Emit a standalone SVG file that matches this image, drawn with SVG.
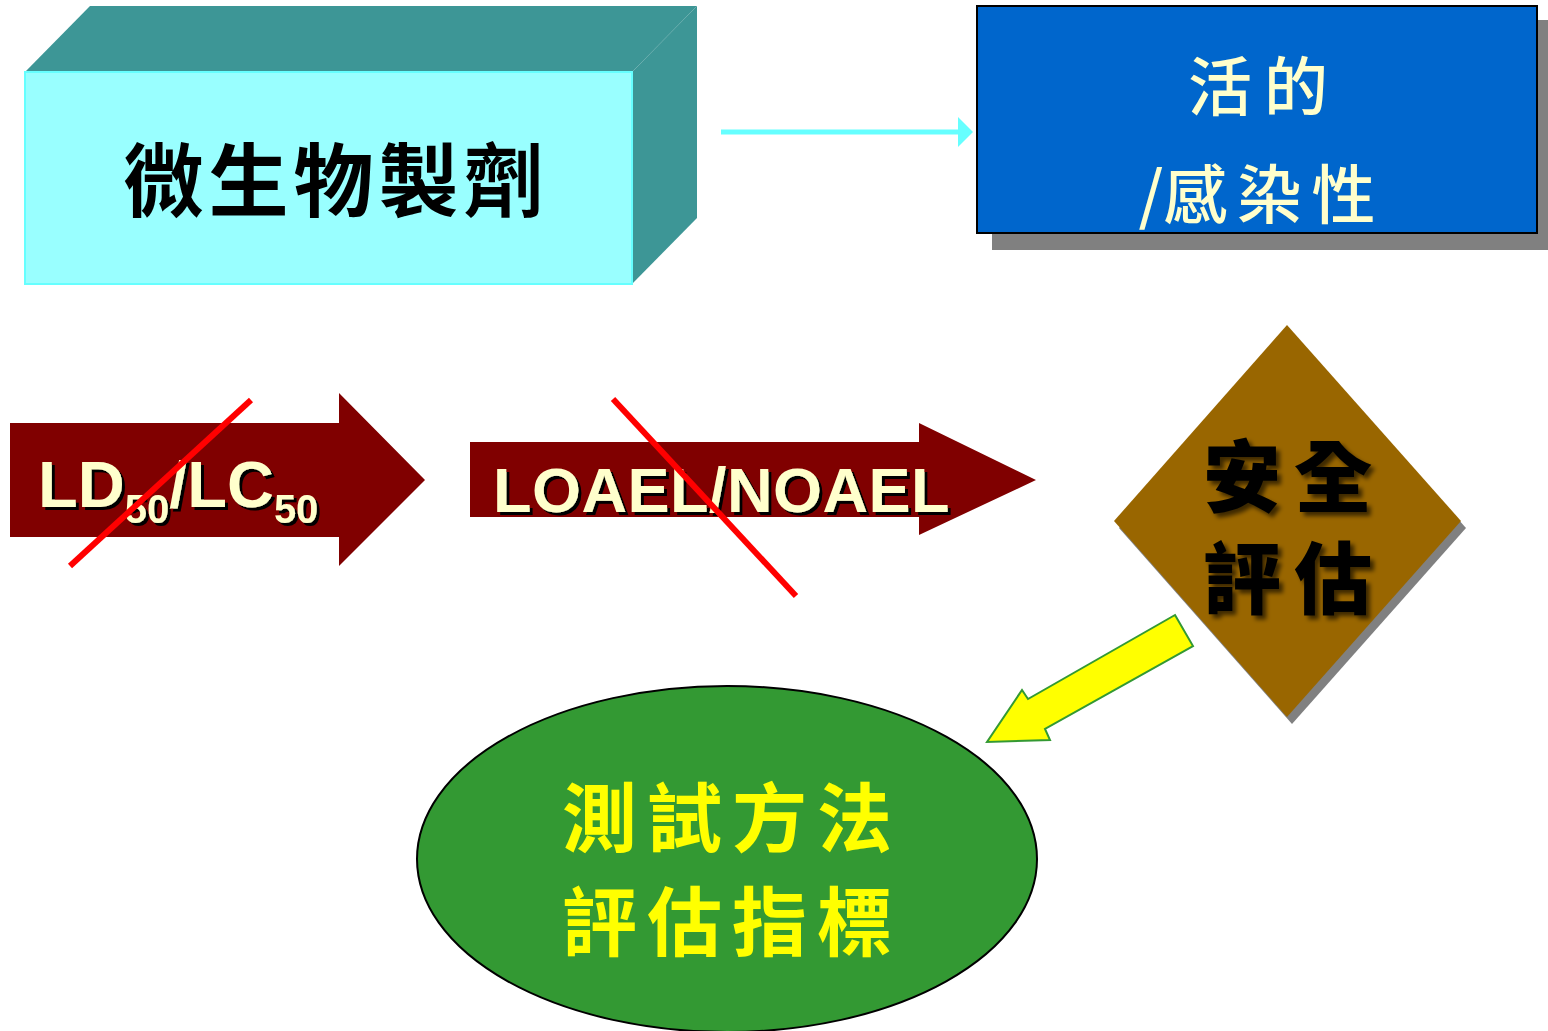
<svg xmlns="http://www.w3.org/2000/svg" width="1548" height="1031" viewBox="0 0 1548 1031">
<style>
.cjk{font-family:"Noto Sans CJK TC","Noto Sans CJK SC",sans-serif;text-anchor:middle}
.lat{font-family:"Liberation Sans",Arial,sans-serif;font-weight:bold;fill:#FFFFCC}
.dark{fill:#800000}
.cross{stroke:#FF0000;stroke-width:6;fill:none}
</style>
<defs>
<filter id="hs" x="-10%" y="-10%" width="130%" height="140%">
<feDropShadow dx="3" dy="3" stdDeviation="0" flood-color="#000000"/>
</filter>
<filter id="bs" x="-10%" y="-10%" width="130%" height="140%">
<feDropShadow dx="4" dy="4" stdDeviation="2" flood-color="#000000" flood-opacity="0.6"/>
</filter>
<marker id="cyanHead" markerWidth="6" markerHeight="6" refX="1" refY="3" orient="auto" markerUnits="strokeWidth">
<path d="M0,0 L3,3 L0,6 Z" fill="#66FFFF"/>
</marker>
</defs>
<rect width="1548" height="1031" fill="#FFFFFF"/>

<g id="node-microbial">
<polygon points="25,72 90,6 697,6 632,72" fill="#3D9696"/>
<polygon points="632,72 697,6 697,218 632,284" fill="#3D9696"/>
<rect x="25" y="72" width="607" height="212" fill="#99FFFF" stroke="#66FFFF" stroke-width="2"/>
<text class="cjk" x="336" y="210" font-size="80" font-weight="700" letter-spacing="5" fill="#000000">微生物製劑</text>
</g>

<g id="node-infect">
<rect x="992" y="20" width="556" height="230" fill="#808080"/>
<rect x="977" y="6" width="560" height="227" fill="#0066CC" stroke="#000000" stroke-width="2"/>
<text class="cjk" x="1264" y="110" font-size="64" font-weight="500" letter-spacing="12" fill="#FFFFCC">活的</text>
<text class="cjk" x="1262" y="218" font-size="64" font-weight="500" letter-spacing="10" fill="#FFFFCC"><tspan letter-spacing="0">/</tspan>感染性</text>
</g>

<g id="node-ld50">
<polygon class="dark" points="10,423 339,423 339,393 425,480 339,566 339,537 10,537"/>
<text class="lat" x="38" y="507" font-size="65" filter="url(#hs)">LD<tspan font-size="40" dy="16">50</tspan><tspan dy="-16">/LC</tspan><tspan font-size="40" dy="16">50</tspan></text>
<line class="cross" x1="70" y1="566" x2="251" y2="400"/>
</g>

<g id="node-loael">
<polygon class="dark" points="470,442 919,442 919,423 1036,480 919,535 919,517 470,517"/>
<text class="lat" x="493" y="512" font-size="63" letter-spacing="0.5" filter="url(#hs)">LOAEL/NOAEL</text>
<line class="cross" x1="613" y1="399" x2="796" y2="596"/>
</g>

<g id="node-safety">
<polygon points="1292,332 1466,528 1292,724 1119,528" fill="#808080"/>
<polygon points="1287,325 1461,521 1287,717 1114,521" fill="#996600"/>
<text class="cjk" x="1294" y="506" font-size="78" font-weight="900" letter-spacing="13" fill="#000000" filter="url(#bs)">安全</text>
<text class="cjk" x="1294" y="608" font-size="78" font-weight="900" letter-spacing="13" fill="#000000" filter="url(#bs)">評估</text>
</g>

<g id="node-test">
<ellipse cx="727" cy="859" rx="310" ry="173" fill="#339933" stroke="#000000" stroke-width="2"/>
<text class="cjk" x="732" y="846" font-size="75" font-weight="700" letter-spacing="10" fill="#FFFF00">測試方法</text>
<text class="cjk" x="732" y="950" font-size="75" font-weight="700" letter-spacing="10" fill="#FFFF00">評估指標</text>
</g>

<g id="connectors">
<line x1="721" y1="132" x2="963" y2="132" stroke="#66FFFF" stroke-width="5" marker-end="url(#cyanHead)"/>
<polygon points="1175,615 1193,646 1045,729 1050,740 987,742 1022,690 1028,699" fill="#FFFF00" stroke="#339933" stroke-width="2"/>
</g>
</svg>
